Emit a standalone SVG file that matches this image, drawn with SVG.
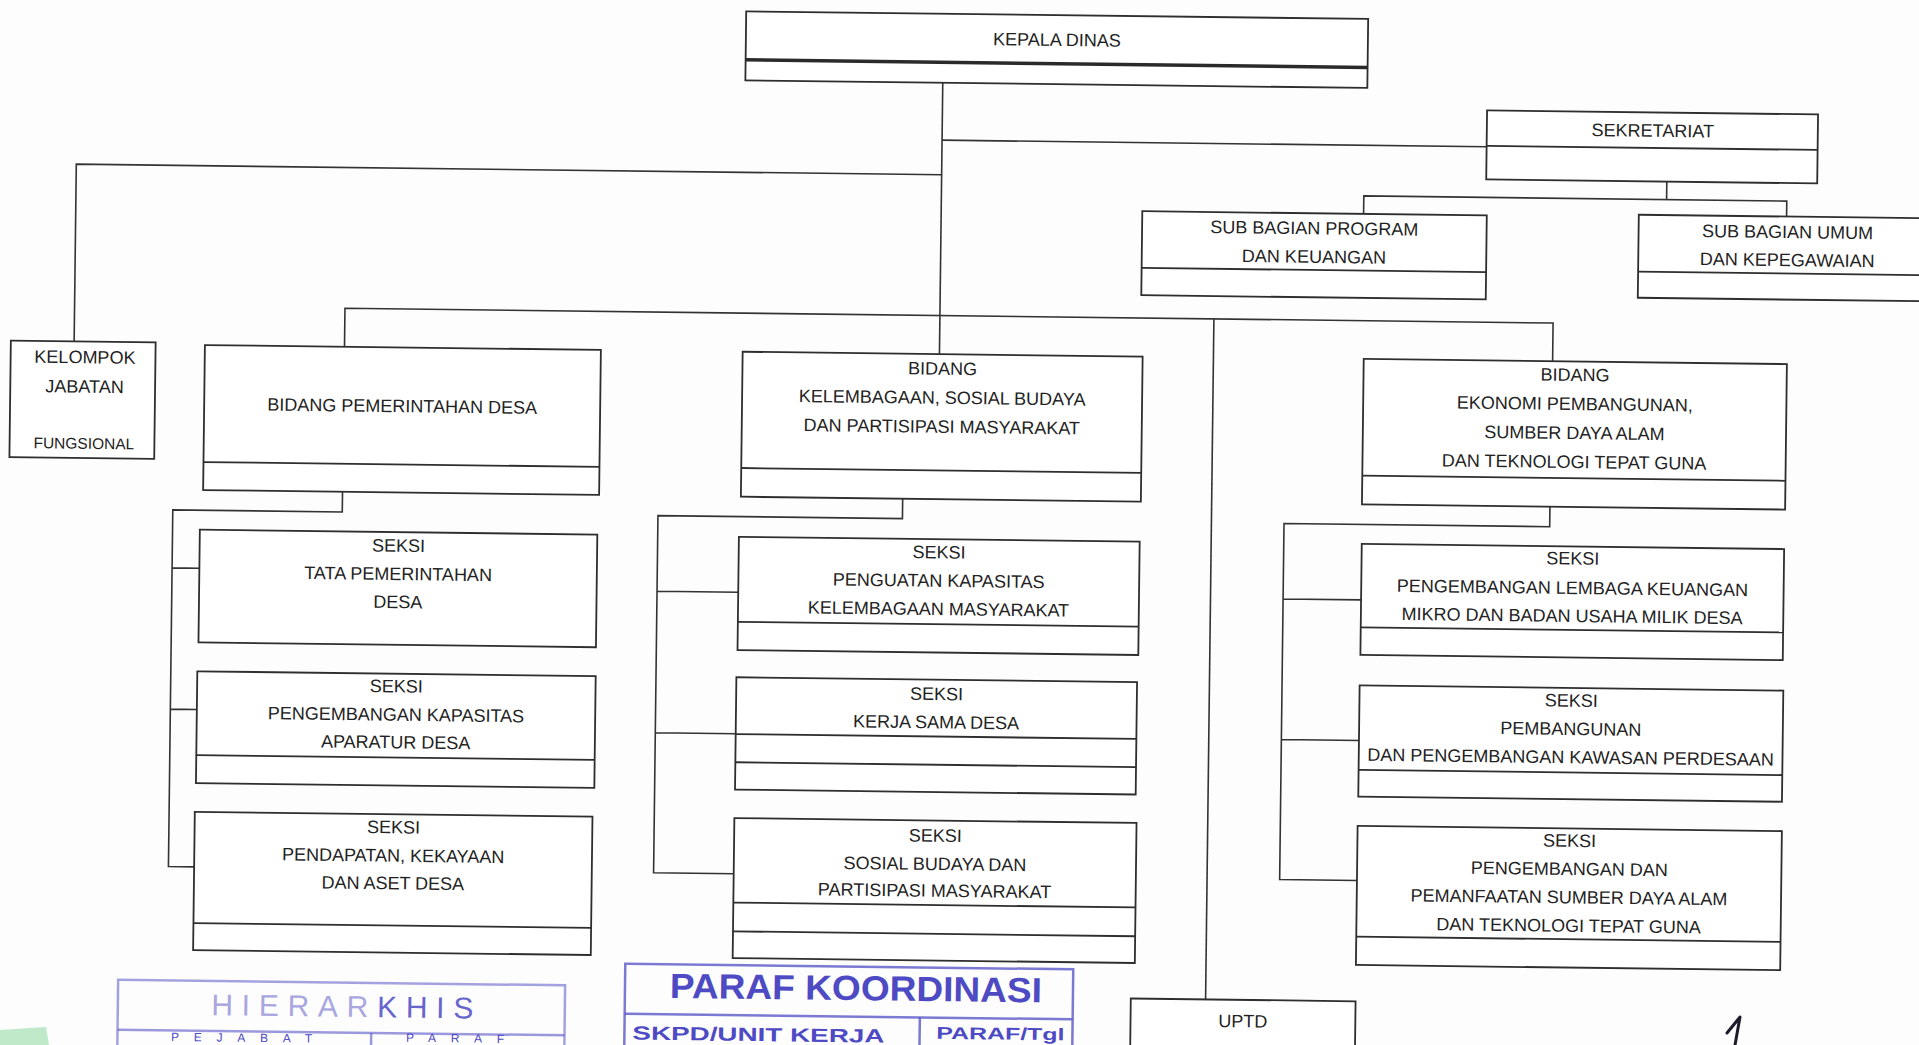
<svg xmlns="http://www.w3.org/2000/svg" width="1919" height="1045" viewBox="0 0 1919 1045">
<style>
.box{fill:#fff;stroke:#2e2e2e;stroke-width:1.8}
.dv{fill:none;stroke:#2e2e2e;stroke-width:1.8}
.ln{fill:none;stroke:#333;stroke-width:1.6}
.t{font-family:"Liberation Sans",Arial,sans-serif;font-size:18px;fill:#222;text-anchor:middle}
.stp{fill:none;stroke:#5a57c8;stroke-width:2.5;opacity:.8}
.st{font-family:"Liberation Sans",Arial,sans-serif;fill:#4d4ac4}
</style>
<rect x="0" y="0" width="1919" height="1045" fill="#fdfdfd"/>
<g transform="rotate(0.7 960 522)">
<g id="connectors">
<path class="ln" d="M937.4,83 V354.4"/>
<path class="ln" d="M937.4,140.4 H1482"/>
<path class="ln" d="M937.4,175 H72 V352.2"/>
<path class="ln" d="M342.4,354.3 V315.8 H1550.6 V354"/>
<path class="ln" d="M1211.4,315.8 V996.4"/>
<path class="ln" d="M1662.6,173 V191"/>
<path class="ln" d="M1359.8,209 V191 H1782.8 V206.5"/>
<path class="ln" d="M342.2,499.3 V519.5 H172.7 V876.2 H198.4 M172.7,577.5 H200 M172.7,718.8 H199.2"/>
<path class="ln" d="M902.4,499.4 V519.3 H657.9 V876.5 H738 M657.9,595 H739.1 M657.9,736.5 H738.3"/>
<path class="ln" d="M1549.7,499.4 V519.5 H1284 V875.6 H1361.3 M1284,595 H1362 M1284,735.6 H1361.6"/>
</g>
<g id="kepala-dinas">
<rect class="box" x="740" y="14" width="622" height="69"/>
<line x1="740" y1="62.5" x2="1362" y2="62.5" stroke="#2a2a2a" stroke-width="3.5"/>
<text class="t" x="1051" y="44.8">KEPALA DINAS</text>
</g>
<g id="sekretariat">
<rect class="box" x="1482" y="104" width="331" height="69"/>
<line class="dv" x1="1482" y1="139.5" x2="1813" y2="139.5"/>
<text class="t" x="1648" y="128.3">SEKRETARIAT</text>
</g>
<g id="sub-bagian-program">
<rect class="box" x="1138.5" y="209" width="344.5" height="84"/>
<line class="dv" x1="1138.5" y1="265.7" x2="1483" y2="265.7"/>
<text class="t" x="1310.7" y="230">SUB BAGIAN PROGRAM</text>
<text class="t" x="1310.7" y="258.5">DAN KEUANGAN</text>
</g>
<g id="sub-bagian-umum">
<rect class="box" x="1635" y="206.5" width="300" height="83"/>
<line class="dv" x1="1635" y1="263.4" x2="1935" y2="263.4"/>
<text class="t" x="1784" y="228">SUB BAGIAN UMUM</text>
<text class="t" x="1784" y="256">DAN KEPEGAWAIAN</text>
</g>
<g id="kelompok-jabatan-fungsional">
<rect class="box" x="8.7" y="352.2" width="144.8" height="116.5"/>
<text class="t" x="83" y="374">KELOMPOK</text>
<text class="t" x="83" y="403.4">JABATAN</text>
<text class="t" x="83" y="459.5" style="font-size:15.5px">FUNGSIONAL</text>
</g>
<g id="bidang-pemerintahan-desa">
<rect class="box" x="202.8" y="354.3" width="396" height="145"/>
<line class="dv" x1="202.8" y1="471.3" x2="598.8" y2="471.3"/>
<text class="t" x="400.8" y="419">BIDANG PEMERINTAHAN DESA</text>
</g>
<g id="bidang-kelembagaan">
<rect class="box" x="740.6" y="354.4" width="400" height="145"/>
<line class="dv" x1="740.6" y1="470.7" x2="1140.6" y2="470.7"/>
<text class="t" x="940.6" y="375">BIDANG</text>
<text class="t" x="940.6" y="404">KELEMBAGAAN, SOSIAL BUDAYA</text>
<text class="t" x="940.6" y="433">DAN PARTISIPASI MASYARAKAT</text>
</g>
<g id="bidang-ekonomi">
<rect class="box" x="1361.7" y="354" width="423.2" height="145.5"/>
<line class="dv" x1="1361.7" y1="470.7" x2="1784.9" y2="470.7"/>
<text class="t" x="1573.3" y="373.5">BIDANG</text>
<text class="t" x="1573.3" y="402.5">EKONOMI PEMBANGUNAN,</text>
<text class="t" x="1573.3" y="431.5">SUMBER DAYA ALAM</text>
<text class="t" x="1573.3" y="460.5">DAN TEKNOLOGI TEPAT GUNA</text>
</g>
<g id="seksi-tata-pemerintahan">
<rect class="box" x="200" y="539" width="397.5" height="112.7"/>
<text class="t" x="398.8" y="558.6">SEKSI</text>
<text class="t" x="398.8" y="586.9">TATA PEMERINTAHAN</text>
<text class="t" x="398.8" y="614.9">DESA</text>
</g>
<g id="seksi-pengembangan-kapasitas">
<rect class="box" x="199.2" y="680.6" width="398.4" height="111.8"/>
<line class="dv" x1="199.2" y1="764.4" x2="597.6" y2="764.4"/>
<text class="t" x="398.4" y="699.2">SEKSI</text>
<text class="t" x="398.4" y="727.6">PENGEMBANGAN KAPASITAS</text>
<text class="t" x="398.4" y="755.2">APARATUR DESA</text>
</g>
<g id="seksi-pendapatan">
<rect class="box" x="198.4" y="821.2" width="397.7" height="138.3"/>
<line class="dv" x1="198.4" y1="932.4" x2="596.1" y2="932.4"/>
<text class="t" x="397.3" y="840.2">SEKSI</text>
<text class="t" x="397.3" y="868.6">PENDAPATAN, KEKAYAAN</text>
<text class="t" x="397.3" y="896.2">DAN ASET DESA</text>
</g>
<g id="seksi-penguatan-kapasitas">
<rect class="box" x="739.1" y="539.5" width="400.8" height="113.3"/>
<line class="dv" x1="739.1" y1="624.5" x2="1139.9" y2="624.5"/>
<text class="t" x="939.5" y="558.6">SEKSI</text>
<text class="t" x="939.5" y="587">PENGUATAN KAPASITAS</text>
<text class="t" x="939.5" y="615.3">KELEMBAGAAN MASYARAKAT</text>
</g>
<g id="seksi-kerja-sama">
<rect class="box" x="738.3" y="680" width="400.7" height="112.3"/>
<line class="dv" x1="738.3" y1="736.8" x2="1139" y2="736.8"/>
<line class="dv" x1="738.3" y1="765" x2="1139" y2="765"/>
<text class="t" x="938.6" y="700.3">SEKSI</text>
<text class="t" x="938.6" y="728.6">KERJA SAMA DESA</text>
</g>
<g id="seksi-sosial-budaya">
<rect class="box" x="738" y="820.8" width="402.2" height="140"/>
<line class="dv" x1="738" y1="905.3" x2="1140.2" y2="905.3"/>
<line class="dv" x1="738" y1="934.1" x2="1140.2" y2="934.1"/>
<text class="t" x="939.1" y="842">SEKSI</text>
<text class="t" x="939.1" y="870.3">SOSIAL BUDAYA DAN</text>
<text class="t" x="939.1" y="897">PARTISIPASI MASYARAKAT</text>
</g>
<g id="seksi-lembaga-keuangan">
<rect class="box" x="1362" y="539" width="422.4" height="111"/>
<line class="dv" x1="1362" y1="622.4" x2="1784.4" y2="622.4"/>
<text class="t" x="1573.2" y="557">SEKSI</text>
<text class="t" x="1573.2" y="586.5">PENGEMBANGAN LEMBAGA KEUANGAN</text>
<text class="t" x="1573.2" y="614.5">MIKRO DAN BADAN USAHA MILIK DESA</text>
</g>
<g id="seksi-pembangunan">
<rect class="box" x="1361.6" y="680.5" width="423.7" height="111.2"/>
<line class="dv" x1="1361.6" y1="765" x2="1785.3" y2="765"/>
<text class="t" x="1573.4" y="699.2">SEKSI</text>
<text class="t" x="1573.4" y="727.5">PEMBANGUNAN</text>
<text class="t" x="1573.4" y="755.8">DAN PENGEMBANGAN KAWASAN PERDESAAN</text>
</g>
<g id="seksi-sumber-daya-alam">
<rect class="box" x="1361.3" y="821" width="424.3" height="139.1"/>
<line class="dv" x1="1361.3" y1="931.8" x2="1785.6" y2="931.8"/>
<text class="t" x="1573.5" y="839.3">SEKSI</text>
<text class="t" x="1573.5" y="867.6">PENGEMBANGAN DAN</text>
<text class="t" x="1573.5" y="895.9">PEMANFAATAN SUMBER DAYA ALAM</text>
<text class="t" x="1573.5" y="924.3">DAN TEKNOLOGI TEPAT GUNA</text>
</g>
<g id="uptd">
<rect class="box" x="1136.6" y="996.4" width="224.8" height="70"/>
<text class="t" x="1249" y="1023.8">UPTD</text>
</g>
<g id="stamp-hierarkhis">
<rect class="stp" x="123.8" y="990.1" width="447" height="90" style="opacity:.55"/>
<line class="stp" x1="123.8" y1="1040.1" x2="570.8" y2="1040.1" style="opacity:.6"/>
<line class="stp" x1="377.5" y1="1040.1" x2="377.5" y2="1080" style="opacity:.6"/>
<text class="st" x="217.3" y="1024.3" font-size="30" textLength="262" lengthAdjust="spacing"><tspan fill="#a9a6e0">HIERAR</tspan><tspan fill="#6865cc">KHIS</tspan></text>
<text class="st" x="177.5" y="1050.5" font-size="12" textLength="141" lengthAdjust="spacing" fill="#8a87d6">PEJABAT</text>
<text class="st" x="412.5" y="1048.5" font-size="12" textLength="98" lengthAdjust="spacing" fill="#8a87d6">PARAF</text>
</g>
<g id="stamp-paraf-koordinasi">
<rect class="stp" x="630.7" y="967.9" width="448" height="110"/>
<line class="stp" x1="630.7" y1="1017.9" x2="1078.7" y2="1017.9"/>
<line class="stp" x1="925.9" y1="1017.9" x2="925.9" y2="1080"/>
<text class="st" x="675.7" y="1001.4" font-size="35" font-weight="bold" textLength="372" lengthAdjust="spacingAndGlyphs">PARAF KOORDINASI</text>
<text class="st" x="638.7" y="1043.5" font-size="19" font-weight="bold" textLength="252" lengthAdjust="spacingAndGlyphs">SKPD/UNIT KERJA</text>
<text class="st" x="942.7" y="1039" font-size="17" font-weight="bold" textLength="128" lengthAdjust="spacingAndGlyphs">PARAF/Tgl</text>
</g>
</g>
<path d="M1727,1033 L1740,1017 L1735,1045" fill="none" stroke="#1c1c2c" stroke-width="3" stroke-linecap="round" stroke-linejoin="round"/>
<polygon points="0,1030 46,1027 49,1045 0,1045" fill="#bfe9c8"/>
</svg>
